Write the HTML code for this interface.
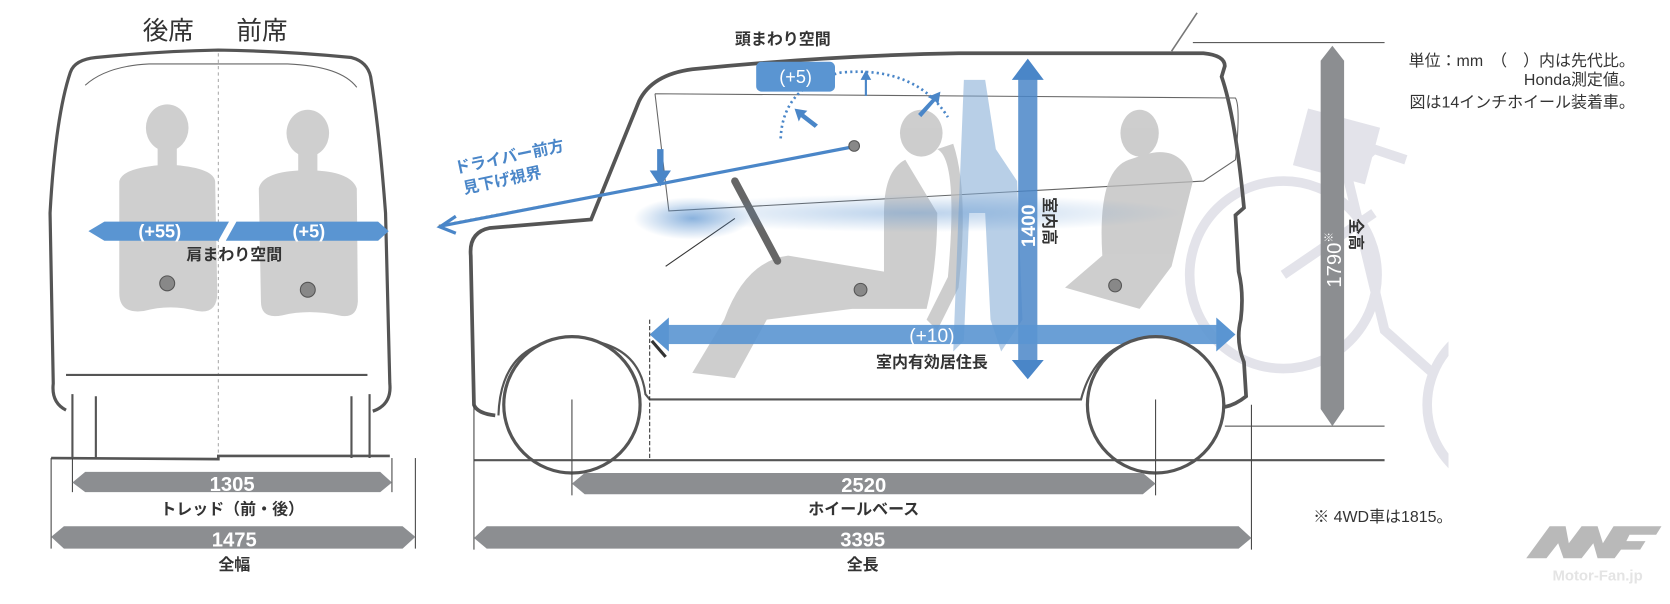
<!DOCTYPE html>
<html><head><meta charset="utf-8">
<style>
html,body{margin:0;padding:0;background:#fff;}
svg{display:block;}
text{font-family:"Liberation Sans","Noto Sans CJK JP",sans-serif;}
</style></head>
<body>
<svg width="1670" height="604" viewBox="0 0 1568 567" preserveAspectRatio="none" xmlns="http://www.w3.org/2000/svg">
<defs>
<radialGradient id="glow" cx="0.5" cy="0.5" r="0.5"><stop offset="0" stop-color="#5b93d0" stop-opacity="0.7"/><stop offset="1" stop-color="#5b93d0" stop-opacity="0"/></radialGradient>
<clipPath id="bk"><rect x="1100" y="0" width="260" height="567"/></clipPath>
</defs>

<!-- ===== LEFT: rear view ===== -->
<text x="134" y="37" font-size="24" fill="#333">後席</text>
<text x="222" y="37" font-size="24" fill="#333">前席</text>
<path d="M62,385 Q48,378 50,360 L47,200 Q52,110 66,68 Q70,56 90,54 Q150,48 205,47 Q270,48 330,54 Q345,58 348,72 Q356,120 362,200 L366,360 Q368,380 350,386" fill="none" stroke="#555" stroke-width="3"/>
<path d="M80,80 Q100,62 140,60 L270,60 Q320,62 335,82" fill="none" stroke="#666" stroke-width="1"/>
<line x1="205" y1="50" x2="205" y2="430" stroke="#aaa" stroke-width="1" stroke-dasharray="3,3"/>
<path d="M62,352 L345,352" stroke="#555" stroke-width="2"/>
<path d="M68,370 L68,430 M90,372 L90,430 M330,372 L330,430 M347,370 L347,430" stroke="#555" stroke-width="2"/>
<path d="M48,430 L205,431 L205,428 L366,428" stroke="#555" stroke-width="2.5" fill="none"/>
<g fill="#cfcfcf">
<ellipse cx="157" cy="120" rx="20" ry="22"/><rect x="148" y="135" width="18" height="22"/>
<path d="M112,170 Q115,158 150,155 L165,155 Q200,158 202,170 L204,275 Q204,295 185,292 Q160,285 135,292 Q112,295 112,275 Z"/>
<ellipse cx="289" cy="125" rx="20" ry="22"/><rect x="280" y="140" width="18" height="22"/>
<path d="M243,177 Q246,162 280,160 L297,160 Q330,162 335,177 L336,283 Q335,300 318,296 Q290,290 265,296 Q245,300 245,283 Z"/>
</g>
<circle cx="157" cy="266" r="7" fill="#888" stroke="#555"/>
<circle cx="289" cy="272" r="7" fill="#888" stroke="#555"/>
<path d="M83,217 L98,208 L215,208 L205,226 L98,226 Z" fill="#5a95d2"/>
<path d="M222,208 L355,208 L365,217 L355,226 L212,226 Z" fill="#5a95d2"/>
<text x="150" y="223" font-size="17" fill="#fff" text-anchor="middle" font-weight="bold">(+55)</text>
<text x="290" y="223" font-size="17" fill="#fff" text-anchor="middle" font-weight="bold">(+5)</text>
<text x="220" y="244" font-size="15" fill="#333" text-anchor="middle" font-weight="bold">肩まわり空間</text>
<line x1="68" y1="430" x2="68" y2="462" stroke="#444"/><line x1="368" y1="430" x2="368" y2="462" stroke="#444"/>
<line x1="48" y1="430" x2="48" y2="515" stroke="#444"/><line x1="390" y1="430" x2="390" y2="515" stroke="#444"/>
<path d="M68,453 L80,443 L357,443 L368,453 L357,462 L80,462 Z" fill="#8c8e91"/>
<text x="218" y="461" font-size="19" fill="#fff" text-anchor="middle" font-weight="bold">1305</text>
<text x="218" y="483" font-size="15" fill="#333" text-anchor="middle" font-weight="bold">トレッド（前・後）</text>
<path d="M48,504 L60,494 L378,494 L390,504 L378,515 L60,515 Z" fill="#8c8e91"/>
<text x="220" y="513" font-size="19" fill="#fff" text-anchor="middle" font-weight="bold">1475</text>
<text x="220" y="535" font-size="15" fill="#333" text-anchor="middle" font-weight="bold">全幅</text>

<!-- ===== bicycle (faint, clipped) ===== -->
<g clip-path="url(#bk)">
<g stroke="#e3e3ea" fill="none" stroke-width="9">
<circle cx="1205" cy="258" r="88"/>
<path d="M1265,165 L1300,310 L1345,350"/>
<path d="M1262,165 L1290,140 L1320,150"/>
<path d="M1205,258 L1290,200"/>
<circle cx="1420" cy="380" r="80"/>
</g>
<rect x="1220" y="110" width="70" height="55" fill="#e3e3ea" transform="rotate(15 1255 137)"/>
</g>

<!-- ===== MIDDLE: side view ===== -->
<path d="M465,390 Q448,388 445,380 L442,240 Q440,218 460,214 L555,206 L600,95 Q612,70 650,65 Q780,52 900,50 L1130,50 Q1150,52 1150,62 L1147,72 Q1160,110 1168,195 L1160,202 L1163,255 Q1168,275 1165,300 Q1160,320 1168,340 L1170,372 Q1160,380 1150,382" fill="none" stroke="#555" stroke-width="3.5"/>
<path d="M468,390 Q470,320 537,318 Q600,320 606,370 L610,375 L1015,375 Q1030,318 1085,318 Q1140,318 1150,382" fill="none" stroke="#555" stroke-width="2"/>
<line x1="1100" y1="48" x2="1124" y2="12" stroke="#777" stroke-width="1.5"/>
<line x1="1120" y1="40" x2="1300" y2="40" stroke="#444" stroke-width="1"/>
<line x1="1150" y1="400" x2="1300" y2="400" stroke="#444" stroke-width="1"/>
<path d="M615,88 L1160,92 Q1165,100 1160,150 L1130,170 L628,198 L615,88" fill="none" stroke="#666" stroke-width="1"/>
<g fill="#bdbdbd" opacity="0.75">
<ellipse cx="865" cy="125" rx="20" ry="22"/>
<path d="M850,150 Q830,160 830,200 L830,255 L740,240 Q700,245 680,300 L650,350 L690,355 L720,300 L800,290 L870,290 Q880,250 880,200 Z"/>
<path d="M880,140 Q900,150 890,260 L870,300 L880,310 L900,270 Q910,180 895,135 Z"/>
<ellipse cx="1070" cy="125" rx="18" ry="22"/>
<path d="M1060,150 Q1030,160 1035,240 L1000,270 L1070,290 L1100,250 L1120,170 Q1110,135 1075,145 Z"/>
</g>
<g fill="#7ea7d4" opacity="0.55">
<path d="M905,75 L925,75 L935,140 L955,170 L960,300 L940,330 L930,300 L925,200 L910,200 L905,320 L895,330 L900,200 Z"/>
</g>
<circle cx="808" cy="272" r="6" fill="#888" stroke="#555"/>
<circle cx="1047" cy="268" r="6" fill="#888" stroke="#555"/>
<line x1="690" y1="170" x2="730" y2="245" stroke="#666" stroke-width="7" stroke-linecap="round"/>
<line x1="625" y1="250" x2="690" y2="205" stroke="#333" stroke-width="1"/>
<ellipse cx="650" cy="205" rx="55" ry="20" fill="url(#glow)"/>
<ellipse cx="860" cy="200" rx="250" ry="18" fill="url(#glow)" opacity="0.6"/>
<line x1="412" y1="212" x2="800" y2="138" stroke="#8a7a55" stroke-width="2" stroke-dasharray="2,3"/>
<line x1="415" y1="212" x2="800" y2="138" stroke="#4a86c8" stroke-width="3"/>
<path d="M428,203 L413,213 L428,219" fill="none" stroke="#4a86c8" stroke-width="3"/>
<circle cx="802" cy="137" r="5" fill="#888" stroke="#555"/>
<text x="0" y="0" font-size="15" fill="#4a86c8" font-weight="bold" transform="translate(428,163) rotate(-12)">ドライバー前方</text>
<text x="0" y="0" font-size="15" fill="#4a86c8" font-weight="bold" transform="translate(436,182) rotate(-12)">見下げ視界</text>
<path d="M617,140 L617,160 L610,160 L620,175 L630,160 L623,160 L623,140 Z" fill="#4a86c8"/>
<text x="690" y="42" font-size="15" fill="#333" font-weight="bold">頭まわり空間</text>
<path d="M733,130 Q735,80 790,68 Q860,62 890,110" fill="none" stroke="#4a86c8" stroke-width="2.5" stroke-dasharray="2,3"/>
<rect x="710" y="58" width="74" height="28" rx="5" fill="#5a95d2"/>
<text x="747" y="78" font-size="17" fill="#fff" text-anchor="middle">(+5)</text>
<path d="M812,90 L812,75 L808,75 L813,66 L818,75 L814,75 L814,90Z" fill="#4a86c8"/>
<path d="M765,120 L752,110 L750,114 L746,102 L758,104 L755,107 L768,117Z" fill="#4a86c8"/>
<path d="M862,107 L875,93 L871,91 L883,86 L881,98 L878,95 L865,110Z" fill="#4a86c8"/>
<rect x="956" y="72" width="18" height="270" fill="#4a86c8" opacity="0.85"/>
<path d="M950,75 L965,55 L980,75 Z M950,338 L965,356 L980,338 Z" fill="#4a86c8"/>
<text x="0" y="0" font-size="18" fill="#fff" font-weight="bold" transform="translate(972,232) rotate(-90)">1400</text>
<text x="0" y="0" font-size="15" fill="#333" font-weight="bold" transform="translate(980,185) rotate(90)">室内高</text>
<rect x="625" y="305" width="520" height="18" fill="#5a95d2" opacity="0.9"/>
<path d="M628,298 L610,314 L628,330 Z M1142,298 L1160,314 L1142,330 Z" fill="#5a95d2"/>
<line x1="610" y1="300" x2="610" y2="432" stroke="#333" stroke-width="1" stroke-dasharray="4,2"/>
<line x1="612" y1="320" x2="625" y2="335" stroke="#333" stroke-width="3"/>
<text x="875" y="321" font-size="18" fill="#fff" text-anchor="middle">(+10)</text>
<text x="875" y="345" font-size="15" fill="#333" text-anchor="middle" font-weight="bold">室内有効居住長</text>
<circle cx="537" cy="380" r="64" fill="#fff" stroke="#555" stroke-width="3"/>
<circle cx="1085" cy="380" r="64" fill="#fff" stroke="#555" stroke-width="3"/>
<line x1="537" y1="375" x2="537" y2="432" stroke="#444"/>
<line x1="1085" y1="375" x2="1085" y2="432" stroke="#444"/>
<line x1="445" y1="432" x2="1300" y2="432" stroke="#555" stroke-width="2"/>
<line x1="445" y1="380" x2="445" y2="516" stroke="#444"/>
<line x1="1175" y1="380" x2="1175" y2="516" stroke="#444"/>
<line x1="1085" y1="432" x2="1085" y2="465" stroke="#444"/>
<line x1="537" y1="432" x2="537" y2="465" stroke="#444"/>
<path d="M537,454 L549,444 L1073,444 L1085,454 L1073,464 L549,464 Z" fill="#8c8e91"/>
<text x="811" y="462" font-size="19" fill="#fff" text-anchor="middle" font-weight="bold">2520</text>
<text x="811" y="483" font-size="15" fill="#333" text-anchor="middle" font-weight="bold">ホイールベース</text>
<path d="M445,505 L457,494 L1163,494 L1175,505 L1163,515 L457,515 Z" fill="#8c8e91"/>
<text x="810" y="513" font-size="19" fill="#fff" text-anchor="middle" font-weight="bold">3395</text>
<text x="810" y="535" font-size="15" fill="#333" text-anchor="middle" font-weight="bold">全長</text>

<!-- ===== RIGHT ===== -->
<path d="M1240,57 L1251,43 L1262,57 L1262,384 L1251,400 L1240,384 Z" fill="#8c8e91"/>
<text x="0" y="0" font-size="19" fill="#fff" transform="translate(1259,270) rotate(-90)">1790<tspan font-size="10" dy="-8">※</tspan></text>
<text x="0" y="0" font-size="15" fill="#333" font-weight="bold" transform="translate(1268,205) rotate(90)">全高</text>
<g font-size="15" fill="#333" text-anchor="end">
<text x="1535" y="62">単位：mm　（　）内は先代比。</text>
<text x="1535" y="80">Honda測定値。</text>
<text x="1535" y="101">図は14インチホイール装着車。</text>
</g>
<text x="1233" y="490" font-size="15" fill="#333">※ 4WD車は1815。</text>
<path d="M1433,524 L1455,494 L1470,494 L1473,510 L1485,494 L1500,494 L1505,510 L1515,494 L1560,494 L1555,502 L1530,502 L1527,508 L1545,508 L1540,516 L1522,516 L1516,524 L1500,524 L1496,510 L1485,524 L1468,524 L1463,510 L1452,524 Z" fill="#b9b9b9"/>
<text x="1500" y="545" font-size="14" fill="#e4e4e4" text-anchor="middle" font-weight="bold">Motor-Fan.jp</text>
</svg>
</body></html>
